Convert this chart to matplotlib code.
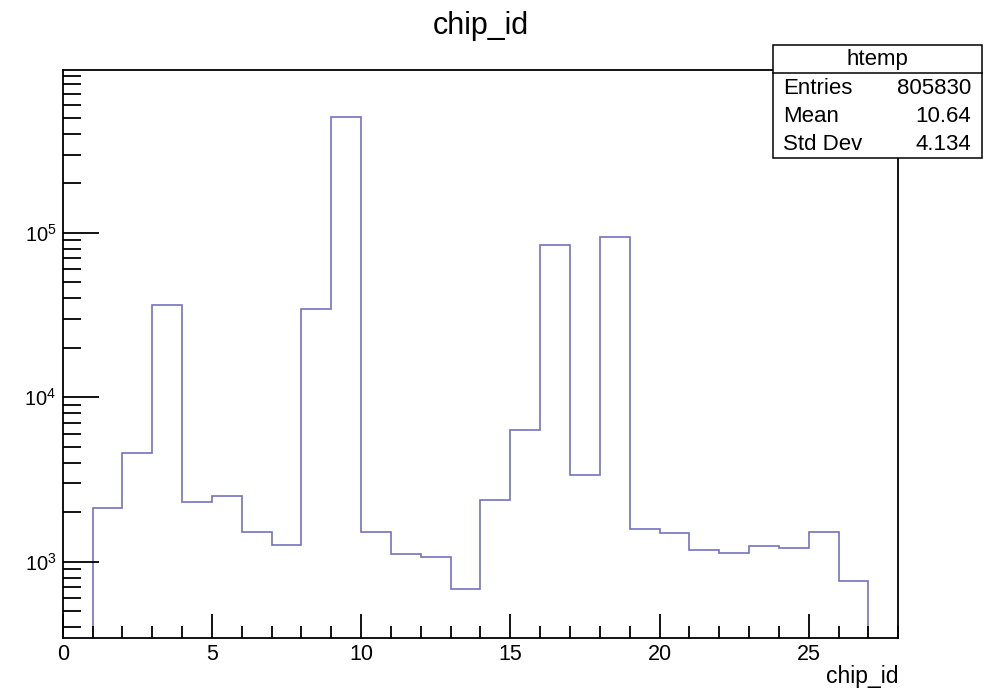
import matplotlib
matplotlib.use("Agg")
import matplotlib.pyplot as plt
import numpy as np
from matplotlib.patches import Rectangle
from matplotlib.ticker import LogLocator, MultipleLocator, LogFormatterSciNotation, NullFormatter

plt.rcParams['font.family'] = ['Liberation Sans', 'DejaVu Sans']
plt.rcParams['mathtext.fontset'] = 'custom'
plt.rcParams['mathtext.rm'] = 'Liberation Sans'
plt.rcParams['mathtext.it'] = 'Liberation Sans:italic'

# data
bin_edges = list(range(1, 28))
counts = [2120, 4600, 36500, 2320, 2510, 1523, 1258, 34300, 509000, 1523,
          1119, 1068, 685, 2361, 6320, 84700, 3366, 94000, 1581, 1489,
          1183, 1129, 1241, 1211, 1523, 764]
stats_title = "htemp"
stats_labels = ["Entries", "Mean", "Std Dev"]
stats_values = ["805830", "10.64", "4.134"]

W, H = 1001, 689
fig = plt.figure(figsize=(W / 100, H / 100), dpi=100)
ax = fig.add_axes([62.7 / W, 1 - 638.3 / H, (898.3 - 62.7) / W, (638.3 - 70) / H])

ax.stairs(counts, bin_edges, baseline=1.0, color='#7272c2', linewidth=1.2)
ax.set_yscale('log')
ax.set_xlim(0, 28)
ax.set_ylim(342, 9.8e5)

for s in ax.spines.values():
    s.set_linewidth(1.3)
    s.set_color('black')

ax.xaxis.set_major_locator(MultipleLocator(5))
ax.xaxis.set_minor_locator(MultipleLocator(1))
ax.yaxis.set_major_locator(LogLocator(base=10, numticks=10))
ax.yaxis.set_minor_locator(LogLocator(base=10, subs=np.arange(2, 10), numticks=20))
ax.yaxis.set_major_formatter(LogFormatterSciNotation())
ax.yaxis.set_minor_formatter(NullFormatter())

ax.tick_params(axis='x', which='major', direction='in', length=17, width=1.3, labelsize=15.5, pad=4, top=False)
ax.tick_params(axis='x', which='minor', direction='in', length=9, width=1.3, top=False)
ax.tick_params(axis='y', which='major', direction='in', length=26, width=1.3, labelsize=14.5, pad=4.5, right=False)
ax.tick_params(axis='y', which='minor', direction='in', length=13, width=1.3, right=False)

fig.text(480.5 / W, 1 - 26 / H, "chip_id", ha='center', va='center', fontsize=22)
fig.text(898.5 / W, 1 - 676 / H, "chip_id", ha='right', va='center', fontsize=16.5)

# stats box
bx0, bx1, by0, by1 = 772.7, 981.7, 44.7, 157.7
sep = 72.5
fig.patches.append(Rectangle((bx0 / W, 1 - by1 / H), (bx1 - bx0) / W, (by1 - by0) / H,
                             transform=fig.transFigure, facecolor='white', edgecolor='black',
                             linewidth=1.1, zorder=5))
fig.add_artist(plt.Line2D([bx0 / W, bx1 / W], [1 - sep / H, 1 - sep / H],
                          transform=fig.transFigure, color='black', linewidth=1.1, zorder=6))
fig.text((bx0 + bx1) / 2 / W, 1 - 59 / H, stats_title, ha='center', va='center', fontsize=16, zorder=7)
rows_y = [89, 117, 145]
for lab, val, yy in zip(stats_labels, stats_values, rows_y):
    fig.text((bx0 + 10.5) / W, 1 - yy / H, lab, ha='left', va='center', fontsize=16, zorder=7)
    fig.text((bx1 - 10.5) / W, 1 - yy / H, val, ha='right', va='center', fontsize=16, zorder=7)

fig.savefig("out.png", dpi=100)
